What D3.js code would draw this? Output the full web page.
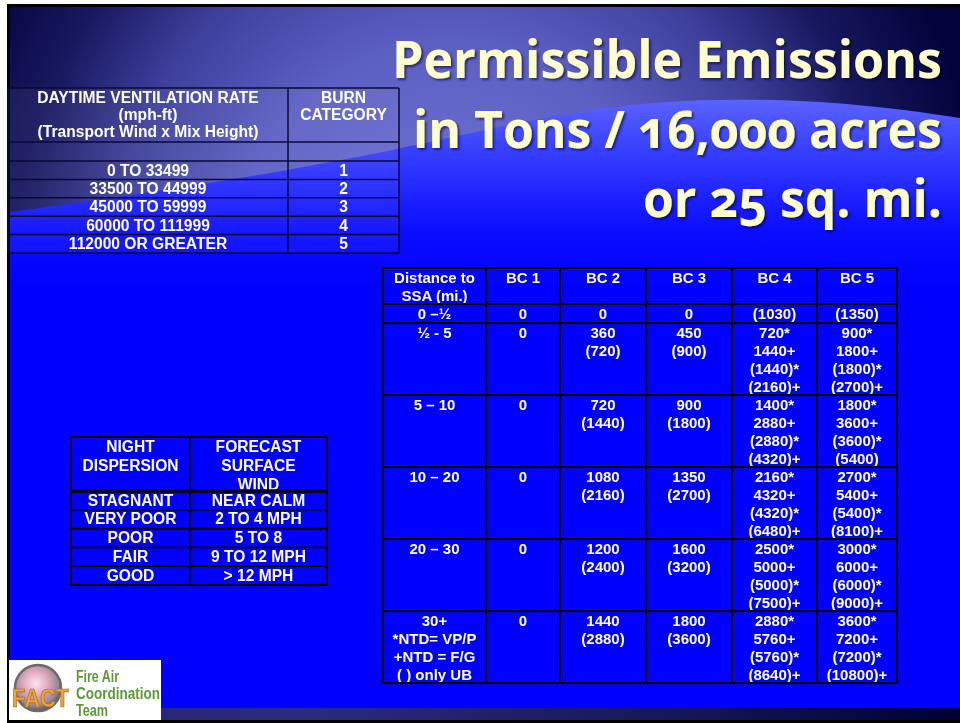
<!DOCTYPE html>
<html>
<head>
<meta charset="utf-8">
<script src="https://cdn.jsdelivr.net/npm/d3@7/dist/d3.min.js"></script>
<style>
  body { margin: 0; background: #fff; }
  svg { display: block; }
  .cell text { font-family: "Liberation Sans", Arial, sans-serif; font-weight: bold; fill: #fff; }
</style>
</head>
<body>
<svg class="slide" width="960" height="723"></svg>
<script>
// DATA /////////////////////////////////////////
const titleLines = ["Permissible Emissions", "in Tons / 16,000 acres", "or 25 sq. mi."];

const ventHeader = [
  ["DAYTIME VENTILATION RATE", "(mph-ft)", "(Transport Wind x Mix Height)"],
  ["BURN", "CATEGORY"]
];
const ventRates = ["0 TO 33499", "33500 TO 44999", "45000 TO 59999", "60000 TO 111999", "112000 OR GREATER"];
const burnCategories = ["1", "2", "3", "4", "5"];

const nightHeader = [["NIGHT", "DISPERSION"], ["FORECAST", "SURFACE", "WIND"]];
const nightDispersion = ["STAGNANT", "VERY POOR", "POOR", "FAIR", "GOOD"];
const surfaceWind = ["NEAR CALM", "2 TO 4 MPH", "5 TO 8", "9 TO 12 MPH", "> 12 MPH"];

const emisHeader = [["Distance to", "SSA (mi.)"], ["BC 1"], ["BC 2"], ["BC 3"], ["BC 4"], ["BC 5"]];
const distances = [["0 –½"], ["½ - 5"], ["5 – 10"], ["10 – 20"], ["20 – 30"],
  ["30+", "*NTD= VP/P", "+NTD = F/G", "( ) only UB"]];
const bc1 = [["0"], ["0"], ["0"], ["0"], ["0"], ["0"]];
const bc2 = [["0"], ["360", "(720)"], ["720", "(1440)"], ["1080", "(2160)"], ["1200", "(2400)"], ["1440", "(2880)"]];
const bc3 = [["0"], ["450", "(900)"], ["900", "(1800)"], ["1350", "(2700)"], ["1600", "(3200)"], ["1800", "(3600)"]];
const bc4 = [["(1030)"], ["720*", "1440+", "(1440)*", "(2160)+"], ["1400*", "2880+", "(2880)*", "(4320)+"],
  ["2160*", "4320+", "(4320)*", "(6480)+"], ["2500*", "5000+", "(5000)*", "(7500)+"], ["2880*", "5760+", "(5760)*", "(8640)+"]];
const bc5 = [["(1350)"], ["900*", "1800+", "(1800)*", "(2700)+"], ["1800*", "3600+", "(3600)*", "(5400)"],
  ["2700*", "5400+", "(5400)*", "(8100)+"], ["3000*", "6000+", "(6000)*", "(9000)+"], ["3600*", "7200+", "(7200)*", "(10800)+"]];

const logoLines = ["Fire Air", "Coordination", "Team"];

// SETUP ////////////////////////////////////////
const svg = d3.select(".slide");
const defs = svg.append("defs");

const topGrad = defs.append("radialGradient")
  .attr("id", "topGrad").attr("gradientUnits", "userSpaceOnUse")
  .attr("cx", 450).attr("cy", 250).attr("r", 600);
[[0, "#7376da"], [0.35, "#5c5fc2"], [0.55, "#3e409c"], [0.72, "#17175e"], [0.88, "#04043e"], [1, "#000030"]]
  .forEach(([o, c]) => topGrad.append("stop").attr("offset", o).attr("stop-color", c));

const waveGrad = defs.append("linearGradient")
  .attr("id", "waveGrad").attr("gradientUnits", "userSpaceOnUse")
  .attr("x1", 0).attr("y1", 95).attr("x2", 0).attr("y2", 290);
[[0, "#5f66ff"], [0.25, "#3b44ff"], [0.7, "#0a0cff"], [1, "#0000ff"]]
  .forEach(([o, c]) => waveGrad.append("stop").attr("offset", o).attr("stop-color", c));

const footGrad = defs.append("linearGradient").attr("id", "footGrad");
[[0, "#22226e"], [0.3, "#2a2c80"], [0.7, "#16165a"], [1, "#000035"]]
  .forEach(([o, c]) => footGrad.append("stop").attr("offset", o).attr("stop-color", c));

const logoGrad = defs.append("radialGradient").attr("id", "logoGrad")
  .attr("cx", 0.45).attr("cy", 0.4).attr("r", 0.6);
[[0, "#f8e6ee"], [0.45, "#e0a8bc"], [0.8, "#9a8a96"], [1, "#5a5560"]]
  .forEach(([o, c]) => logoGrad.append("stop").attr("offset", o).attr("stop-color", c));

defs.append("filter").attr("id", "shadow")
  .append("feDropShadow")
  .attr("dx", 2).attr("dy", 2).attr("stdDeviation", 1)
  .attr("flood-color", "#000030").attr("flood-opacity", 0.55);

// BACKGROUND ///////////////////////////////////
svg.append("rect").attr("x", 7).attr("y", 4).attr("width", 953).attr("height", 719).attr("fill", "#000");
svg.append("rect").attr("x", 10).attr("y", 7).attr("width", 950).attr("height", 713).attr("fill", "url(#topGrad)");

const wave = d3.line().curve(d3.curveBasis);
const waveTop = [[10, 212], [200, 186], [400, 150], [560, 112], [700, 97], [850, 102], [960, 118]];
svg.append("path")
  .attr("d", wave(waveTop) + "L960,708L10,708Z")
  .attr("fill", "url(#waveGrad)");
svg.append("rect").attr("x", 10).attr("y", 290).attr("width", 950).attr("height", 418).attr("fill", "#0000ff");
svg.append("rect").attr("x", 10).attr("y", 708).attr("width", 950).attr("height", 12).attr("fill", "url(#footGrad)");

// TITLE ////////////////////////////////////////
// each line is squeezed horizontally to the width it takes on the slide
const titleSpec = [
  { x: 392, y: 78, w: 550 },
  { x: 413, y: 148, w: 529 },
  { x: 643, y: 217, w: 299 }
];
svg.append("g")
  .attr("class", "title")
  .attr("filter", "url(#shadow)")
  .selectAll("text")
  .data(titleLines)
  .join("text")
  .attr("x", 0)
  .attr("y", 0)
  .style("font-family", "'Open Sans', Lato, sans-serif")
  .style("font-weight", 700).style("font-size", "52px")
  .style("font-variant-numeric", "oldstyle-nums")
  .attr("fill", "#ffffcc")
  .text((d) => d)
  .attr("transform", function (d, i) {
    const s = titleSpec[i];
    const k = s.w / this.getComputedTextLength();
    return `translate(${s.x}, ${s.y}) scale(${k}, 1)`;
  });

// TABLE HELPER /////////////////////////////////
// rows: array of arrays of cells, each cell an array of lines
const drawTable = (opt) => {
  const g = svg.append("g").attr("class", "cell");
  const xs = d3.cumsum([0, ...opt.colWidths]).map((d) => d + opt.x);
  const ys = d3.cumsum([0, ...opt.rowHeights]).map((d) => d + opt.y);
  const colScale = d3.scaleOrdinal().domain(d3.range(xs.length)).range(xs);
  const rowScale = d3.scaleOrdinal().domain(d3.range(ys.length)).range(ys);

  g.append("rect")
    .attr("x", xs[0]).attr("y", ys[0])
    .attr("width", xs[xs.length - 1] - xs[0]).attr("height", ys[ys.length - 1] - ys[0])
    .attr("fill", opt.fill || "none");

  opt.rows.forEach((row, r) => {
    row.forEach((lines, c) => {
      const cx = (colScale(c) + colScale(c + 1)) / 2;
      g.append("text")
        .attr("x", cx)
        .attr("y", rowScale(r) + opt.baseline)
        .attr("text-anchor", "middle")
        .style("font-size", opt.fontSize + "px")
        .selectAll("tspan")
        .data(lines)
        .join("tspan")
        .attr("x", cx)
        .attr("dy", (d, i) => (i === 0 ? 0 : opt.lineStep))
        .text((d) => d);
    });
  });

  // grid lines
  xs.forEach((x) =>
    g.append("line").attr("x1", x).attr("x2", x).attr("y1", ys[0]).attr("y2", ys[ys.length - 1])
      .attr("stroke", opt.stroke).attr("stroke-width", opt.strokeWidth));
  ys.forEach((y, i) =>
    g.append("line").attr("x1", xs[0]).attr("x2", xs[xs.length - 1]).attr("y1", y).attr("y2", y)
      .attr("stroke", opt.stroke)
      .attr("stroke-width", i === opt.thickRow ? opt.strokeWidth * 2 : opt.strokeWidth));
  return g;
};

// VENTILATION TABLE ////////////////////////////
drawTable({
  x: 8, y: 88,
  colWidths: [280, 111],
  rowHeights: [54, 19, 18.4, 18.4, 18.4, 18.4, 18.4],
  rows: [ventHeader, [[""], [""]], ...ventRates.map((v, i) => [[v], [burnCategories[i]]])],
  baseline: 14.5, lineStep: 17, fontSize: 15.6,
  stroke: "#0a0a30", strokeWidth: 1.5,
  fill: "rgba(255,255,255,0.05)"
});

// NIGHT DISPERSION TABLE ///////////////////////
drawTable({
  x: 71, y: 437,
  colWidths: [119, 137],
  rowHeights: [54, 18.8, 18.8, 18.8, 18.8, 18.8],
  rows: [nightHeader, ...nightDispersion.map((v, i) => [[v], [surfaceWind[i]]])],
  baseline: 14.5, lineStep: 19, fontSize: 15.6,
  stroke: "#000", strokeWidth: 1.8, thickRow: 1
});

// EMISSIONS TABLE //////////////////////////////
const emisRows = distances.map((d, i) => [d, bc1[i], bc2[i], bc3[i], bc4[i], bc5[i]]);
drawTable({
  x: 383, y: 268,
  colWidths: [103, 74, 86, 86, 85, 80],
  rowHeights: [emisHeader, ...emisRows].map((row) => Math.max(19, d3.max(row, (c) => c.length) * 18)),
  rows: [emisHeader, ...emisRows],
  baseline: 14.5, lineStep: 18, fontSize: 15,
  stroke: "#000", strokeWidth: 2
});

// LOGO /////////////////////////////////////////
const logo = svg.append("g").attr("class", "logo");
logo.append("rect").attr("x", 9).attr("y", 660).attr("width", 152).attr("height", 60).attr("fill", "#fff");
logo.append("circle").attr("cx", 38).attr("cy", 688).attr("r", 23).attr("fill", "url(#logoGrad)")
  .attr("stroke", "#6d6870").attr("stroke-width", 2.5);
logo.append("text").attr("x", 12).attr("y", 707)
  .attr("textLength", 57).attr("lengthAdjust", "spacingAndGlyphs")
  .style("font-family", "'Liberation Sans', sans-serif").style("font-weight", 900).style("font-size", "25px")
  .attr("fill", "#eda634").attr("stroke", "#a8681a").attr("stroke-width", 0.7)
  .text("FACT");
logo.selectAll(".logoLine")
  .data(logoLines)
  .join("text")
  .attr("class", "logoLine")
  .attr("x", 76)
  .attr("y", (d, i) => 682 + i * 17)
  .attr("textLength", (d) => ({ "Fire Air": 43, "Coordination": 84, "Team": 32 }[d]))
  .attr("lengthAdjust", "spacingAndGlyphs")
  .style("font-family", "'Liberation Sans Narrow', 'Liberation Sans', sans-serif")
  .style("font-weight", "bold").style("font-size", "16px")
  .attr("fill", "#5a9a34")
  .text((d) => d);
</script>
</body>
</html>
